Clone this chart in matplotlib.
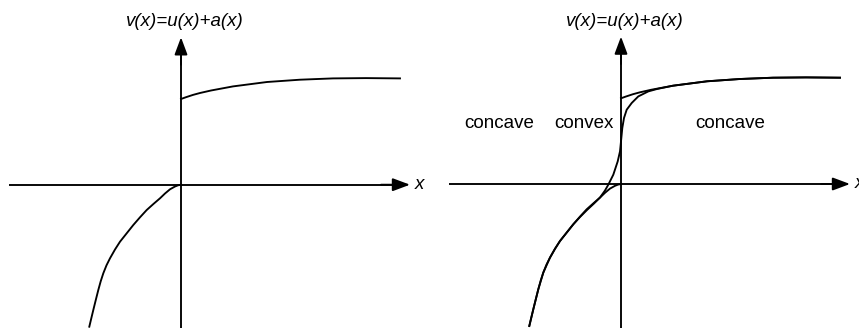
import matplotlib
matplotlib.use("Agg")
import matplotlib.pyplot as plt

# ---- data (relative to the origin of each panel) ----
upper_x = [0, 5, 12, 19, 30, 52, 86, 119, 152, 185, 219]
upper_y = [85.7, 87.5, 89.8, 91.7, 94.2, 98.3, 102.7, 105.0, 106.3, 106.6, 106.3]

lower_x = [0, -3, -6, -11, -16, -21, -27.5, -34.3, -41, -47.7, -54, -61, -66, -71,
           -74.5, -77.7, -80.3, -82.7, -85.2, -87.7, -89.7, -91.7]
lower_y = [0, -0.6, -1.8, -4.6, -8.8, -13.6, -19.2, -25.3, -32.6, -40.3, -48.2, -57, -64.8, -73.6,
           -80.6, -88.6, -96.6, -105.3, -115.2, -125.3, -133.6, -142]

s_x = [-91.7, -87.7, -82.7, -77.7, -71, -66, -61, -54, -47.7, -41, -34, -27, -21, -16, -12.7,
       -7.7, -3.3, -1, 0, 1.3, 3, 5.7, 10.7, 17.3, 27.3, 36, 52, 86, 119, 152, 185, 219]
s_y = [-142, -125.3, -105.3, -88.6, -73.6, -64.8, -57, -48.2, -40.3, -33, -26, -19.5, -13.5, -6.5, -0.7,
       9.3, 22.6, 32.6, 42.6, 56, 66, 74.3, 81, 87.6, 92.6, 95, 98.3, 102.7, 105, 106.3, 106.6, 106.3]

region_labels = ["concave", "convex", "concave"]
region_x = [-122, -37, 109]
region_y = 61

ylabel_text = "v(x)=u(x)+a(x)"
xlabel_text = "x"

W, H = 859, 328
fig = plt.figure(figsize=(W / 100, H / 100), dpi=100)

FONT = "Liberation Sans"
FS = 13.5
LW = 1.35


def make_panel(rect, xlim, ylim):
    ax = fig.add_axes(rect)
    ax.set_xlim(*xlim)
    ax.set_ylim(*ylim)
    ax.axis("off")
    # axes with arrows
    ax.plot([-172, 216], [0, 0], color="black", lw=LW, solid_capstyle="butt")
    ax.plot([0, 0], [-160, 135], color="black", lw=LW, solid_capstyle="butt")
    ax.annotate("", xy=(229, 0), xytext=(200, 0),
                arrowprops=dict(arrowstyle="-|>,head_length=0.75,head_width=0.28",
                                mutation_scale=14, color="black", lw=LW,
                                shrinkA=0, shrinkB=0))
    ax.annotate("", xy=(0, 147.4), xytext=(0, 120),
                arrowprops=dict(arrowstyle="-|>,head_length=0.75,head_width=0.28",
                                mutation_scale=14, color="black", lw=LW,
                                shrinkA=0, shrinkB=0))
    ax.text(4, 162.7, ylabel_text, ha="center", va="center", fontsize=FS,
            family=FONT, style="italic", clip_on=False)
    ax.text(234, 0, xlabel_text, ha="left", va="center", fontsize=FS,
            family=FONT, style="italic", clip_on=False)
    ax.plot(upper_x, upper_y, color="black", lw=LW, solid_joinstyle="round")
    ax.plot(lower_x, lower_y, color="black", lw=LW, solid_joinstyle="round")
    return ax


ax1 = make_panel([0, 0, 430 / W, 1], (-181, 249), (-143.3, 184.7))
ax2 = make_panel([430 / W, 0, 429 / W, 1], (-191, 238), (-144, 184))
ax2.plot(s_x, s_y, color="black", lw=LW, solid_joinstyle="round")
for lab, xx in zip(region_labels, region_x):
    ax2.text(xx, region_y, lab, ha="center", va="center", fontsize=FS, family=FONT)

fig.savefig("out.png", dpi=100)
